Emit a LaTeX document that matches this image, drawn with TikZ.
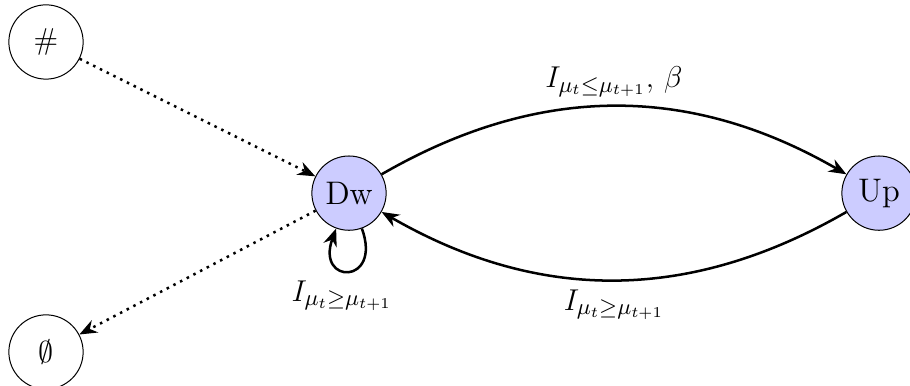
\documentclass[tikz,border=0pt]{standalone}
\usepackage{amsmath,amssymb}
\usepackage{tikz}
\usetikzlibrary{arrows.meta, positioning, calc}

\begin{document}
\begin{tikzpicture}[
    >={Stealth[length=7pt, width=5.5pt]},
    font=\fontsize{13pt}{15pt}\selectfont,
    state/.style={draw, circle, minimum size=1.04cm, inner sep=1pt},
    active/.style={state, fill=blue!20},
    trans/.style={->, line width=1pt},
    dottrans/.style={->, line width=1pt, dotted}
]
    \useasboundingbox (0,0) rectangle (12.74,5.404);

    % States
    \node[state] (hash) at (0.644, 4.816) {$\#$};
    \node[active] (dw) at (4.886, 2.70) {Dw};
    \node[active] (up) at (12.306, 2.70) {Up};
    \node[state] (empty) at (0.644, 0.476) {$\emptyset$};

    % Dotted entry and exit
    \draw[dottrans] (hash) -- (dw);
    \draw[dottrans] (dw) -- (empty);

    % Transitions between Dw and Up
    \draw[trans] (dw) to[bend left=30] node[midway, above] {$I_{\mu_t \leq \mu_{t+1}},\,\beta$} (up);
    \draw[trans] (up) to[bend left=30] node[midway, below] {$I_{\mu_t \geq \mu_{t+1}}$} (dw);
    \draw[trans] (dw) to[loop, out=-70, in=-110, looseness=6] node[below, xshift=-0.1cm] {$I_{\mu_t \geq \mu_{t+1}}$} (dw);

\end{tikzpicture}
\end{document}
